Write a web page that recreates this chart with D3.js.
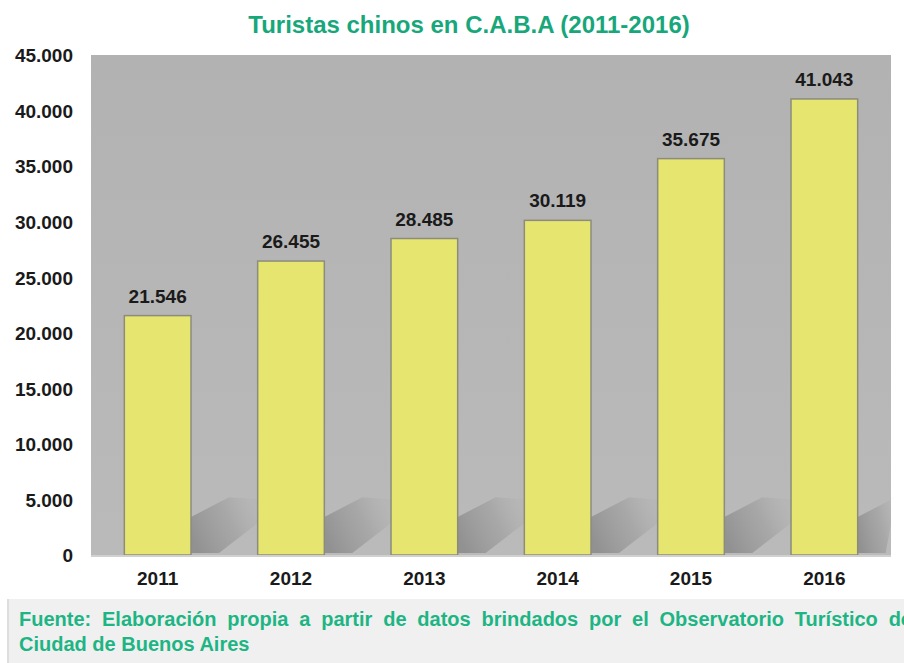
<!DOCTYPE html>
<html>
<head>
<meta charset="utf-8">
<script src="https://cdn.jsdelivr.net/npm/d3@7"></script>
<style>
  body { margin: 0; background: #fff; }
  svg { display: block; font-family: "Liberation Sans", Arial, sans-serif; }
</style>
</head>
<body>
<div id="chart"></div>
<script>
var years = ["2011", "2012", "2013", "2014", "2015", "2016"];
var tourists = [21546, 26455, 28485, 30119, 35675, 41043];
var yTicks = [0, 5000, 10000, 15000, 20000, 25000, 30000, 35000, 40000, 45000];

var width = 904, height = 663;
var margin = { left: 91, right: 13, top: 55, bottom: 108 };

var svg = d3.select("#chart").append("svg")
    .attr("width", width)
    .attr("height", height);

var fmt = function(v) { return d3.format(",")(v).replace(/,/g, "."); };

var x = d3.scaleBand().domain(years)
    .range([margin.left, width - margin.right])
    .paddingInner(0.5).paddingOuter(0.25);

var y = d3.scaleLinear().domain([0, 45000])
    .range([height - margin.bottom, margin.top]);

var defs = svg.append("defs");
var bg = defs.append("linearGradient").attr("id", "bg")
    .attr("x1", 0).attr("y1", 0).attr("x2", 0).attr("y2", 1);
bg.append("stop").attr("offset", "0%").attr("stop-color", "#b2b2b2");
bg.append("stop").attr("offset", "100%").attr("stop-color", "#bababa");

var sh = defs.append("linearGradient").attr("id", "shadow")
    .attr("x1", 0).attr("y1", 0.7).attr("x2", 1).attr("y2", 0.3);
sh.append("stop").attr("offset", "0%").attr("stop-color", "#8a8a8a").attr("stop-opacity", 0.85);
sh.append("stop").attr("offset", "60%").attr("stop-color", "#999").attr("stop-opacity", 0.55);
sh.append("stop").attr("offset", "100%").attr("stop-color", "#aaa").attr("stop-opacity", 0.2);

// plot background
svg.append("rect")
    .attr("x", margin.left).attr("y", y(45000))
    .attr("width", width - margin.right - margin.left)
    .attr("height", y(0) - y(45000))
    .attr("fill", "url(#bg)");

// diagonal shadows behind bars
svg.append("g").selectAll("path")
  .data(years)
  .enter().append("path")
  .attr("fill", "url(#shadow)")
  .attr("d", function(d) {
    var x0 = x(d) + x.bandwidth(), x1 = Math.min(x0 + x.bandwidth(), width - margin.right);
    var yb = y(0), yt = y(5200);
    return "M" + x0 + "," + (yb - 2) + "L" + x0 + "," + (yb - 38) +
      "L" + (x0 + 38) + "," + yt + "L" + x1 + "," + (yt + 2) + "L" + x1 + "," + (yt + 26) +
      "L" + (x0 + 28) + "," + (yb - 2) + "Z";
  });

// bars
svg.append("g").selectAll("rect")
  .data(tourists)
  .enter().append("rect")
  .attr("x", function(d, i) { return x(years[i]); })
  .attr("y", function(d) { return y(d); })
  .attr("width", x.bandwidth())
  .attr("height", function(d) { return y(0) - y(d); })
  .attr("fill", "#e6e56f")
  .attr("stroke", "#8c8c7c")
  .attr("stroke-width", 1.5);

// value labels
svg.append("g").selectAll("text")
  .data(tourists)
  .enter().append("text")
  .attr("x", function(d, i) { return x(years[i]) + x.bandwidth() / 2; })
  .attr("y", function(d) { return y(d) - 13; })
  .attr("text-anchor", "middle")
  .attr("font-size", 19).attr("font-weight", "bold").attr("fill", "#1a1a1a")
  .text(fmt);

// baseline
svg.append("line")
  .attr("x1", margin.left).attr("x2", width - margin.right)
  .attr("y1", y(0) + 1).attr("y2", y(0) + 1)
  .attr("stroke", "#d0d0d0").attr("stroke-width", 2);

// y axis
var yAxis = svg.append("g")
    .attr("transform", "translate(" + (margin.left - 18) + ",0)")
    .call(d3.axisLeft(y).tickValues(yTicks).tickFormat(fmt).tickSize(0).tickPadding(0));
yAxis.select(".domain").remove();
yAxis.selectAll("text")
    .attr("dy", "0.36em")
    .attr("font-size", 19).attr("font-weight", "bold").attr("fill", "#1a1a1a")
    .attr("font-family", "Liberation Sans, Arial, sans-serif");

// x axis
var xAxis = svg.append("g")
    .attr("transform", "translate(0," + (y(0) + 16) + ")")
    .call(d3.axisBottom(x).tickSize(0).tickPadding(0));
xAxis.select(".domain").remove();
xAxis.selectAll("text")
    .attr("dy", "0.71em")
    .attr("font-size", 19).attr("font-weight", "bold").attr("fill", "#1a1a1a")
    .attr("font-family", "Liberation Sans, Arial, sans-serif");

// title
svg.append("text")
    .attr("x", 469).attr("y", 33)
    .attr("text-anchor", "middle")
    .attr("font-size", 24).attr("font-weight", "bold").attr("fill", "#17a77b")
    .text("Turistas chinos en C.A.B.A (2011-2016)");

// source box
svg.append("rect")
    .attr("x", 7).attr("y", 599).attr("width", width - 7).attr("height", 64)
    .attr("fill", "#f0f0f0");
svg.append("line")
    .attr("x1", 8).attr("x2", 8).attr("y1", 599).attr("y2", 663)
    .attr("stroke", "#d8d8d8").attr("stroke-width", 1.5);

var line1 = "Fuente: Elaboración propia a partir de datos brindados por el Observatorio Turístico de".split(" ");
var foot = svg.append("g")
    .attr("font-size", 20).attr("font-weight", "bold").attr("fill", "#1db584");
var words = foot.selectAll("text.w").data(line1).enter().append("text")
    .attr("class", "w").attr("y", 626).text(function(d) { return d; });
var widths = [];
words.each(function() { widths.push(this.getComputedTextLength()); });
var left = 19, right = 912;
var gap = (right - left - d3.sum(widths)) / (line1.length - 1);
var cx = left;
words.attr("x", function(d, i) { var p = cx; cx += widths[i] + gap; return p; });
foot.append("text").attr("x", left).attr("y", 651).text("Ciudad de Buenos Aires");
</script>
</body>
</html>
